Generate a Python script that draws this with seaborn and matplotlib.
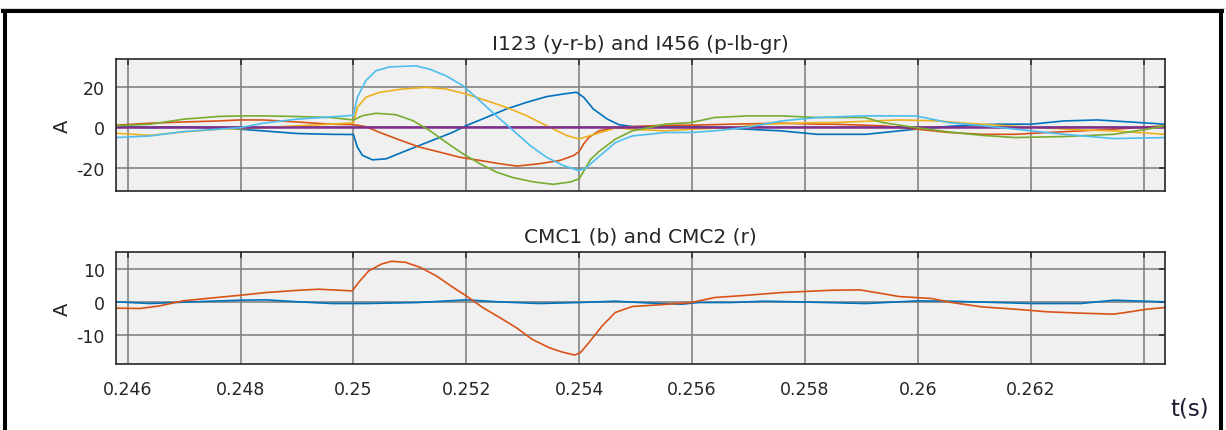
import numpy as np
import pandas as pd
import matplotlib
matplotlib.use("Agg")
import matplotlib.pyplot as plt
from matplotlib.lines import Line2D
import seaborn as sns

# ---------------- phase currents I1..I6 (A) ----------------
t_i1 = [0.2458, 0.2464, 0.2470, 0.2476, 0.2480, 0.2484, 0.2490, 0.2496, 0.2500,
        0.25007, 0.25022, 0.25046, 0.25087, 0.25129, 0.25164, 0.25200, 0.25236,
        0.25271, 0.25307, 0.25342, 0.25378, 0.25400, 0.25420, 0.25445, 0.25465,
        0.25494, 0.25552, 0.25598, 0.25670, 0.25729, 0.25822, 0.25850, 0.25967,
        0.26037, 0.26084, 0.26142, 0.26201, 0.26289, 0.26347, 0.26438]
i1 = [-3.0, -4.0, -2.3, -1.0, -0.7, -0.2, 0.7, 1.5, 2.2,
      9.8, 14.8, 17.2, 18.9, 19.7, 18.9, 16.4, 13.1,
      9.8, 5.7, 0.8, -4.1, -5.8, -4.1, -2.0, -0.3,
      -1.0, -1.8, -1.0, -0.2, 1.5, 2.3, 2.3, 3.6,
      3.1, 2.0, 1.0, 0.0, -1.3, -1.8, -3.5]

t_i2 = [0.2458, 0.2464, 0.2470, 0.2476, 0.2480, 0.2484, 0.2490, 0.2496, 0.2500,
        0.25022, 0.25046, 0.25081, 0.25117, 0.25153, 0.25188, 0.25224, 0.25259,
        0.25290, 0.25330, 0.25366, 0.25390, 0.25400, 0.25408, 0.25417, 0.25435,
        0.25464, 0.25494, 0.25552, 0.25598, 0.25670, 0.25758, 0.25822, 0.25850,
        0.25938, 0.26000, 0.26055, 0.26113, 0.26172, 0.26230, 0.26289, 0.26347,
        0.26438]
i2 = [1.0, 2.0, 2.6, 3.1, 3.6, 3.6, 2.6, 1.5, 1.3,
      0.3, -2.5, -6.2, -9.8, -12.3, -14.8, -16.4, -18.0,
      -19.2, -18.0, -16.4, -14.0, -12.0, -8.2, -5.1, -1.8,
      -0.2, 0.3, 1.0, 1.0, 1.5, 2.0, 1.5, 1.5,
      0.7, -1.0, -2.6, -3.5, -3.5, -2.6, -1.8, -1.0,
      0.7]

t_i3 = [0.2458, 0.2464, 0.2470, 0.2476, 0.2480, 0.2484, 0.2490, 0.2496, 0.2500,
        0.25007, 0.25016, 0.25034, 0.25058, 0.25087, 0.25117, 0.25147, 0.25176,
        0.25200, 0.25236, 0.25271, 0.25307, 0.25342, 0.25372, 0.25395, 0.25408,
        0.25425, 0.25450, 0.25470, 0.25494, 0.25552, 0.25598, 0.25640, 0.25699,
        0.25758, 0.25822, 0.25908, 0.25967, 0.26025, 0.26084, 0.26142, 0.26201,
        0.26259, 0.26318, 0.26376, 0.26438]
i3 = [0.2, -0.2, 0.0, -0.3, -1.0, -1.8, -3.1, -3.5, -3.6,
      -9.8, -13.9, -16.1, -15.6, -12.3, -9.0, -5.7, -2.5,
      0.8, 4.9, 9.0, 12.3, 15.1, 16.4, 17.3, 14.8,
      9.0, 4.0, 1.3, 0.3, 0.3, 0.7, -0.2, -1.0,
      -1.8, -3.5, -3.5, -1.8, -0.2, 1.0, 1.5, 1.5,
      3.1, 3.6, 2.6, 1.5]

t_i4 = [0.2458, 0.26438]
i4 = [0.0, 0.0]

t_i5 = [0.2458, 0.2464, 0.2470, 0.2476, 0.2480, 0.2484, 0.2490, 0.2496, 0.2500,
        0.25007, 0.25022, 0.25040, 0.25064, 0.25111, 0.25135, 0.25164, 0.25194,
        0.25224, 0.25253, 0.25283, 0.25313, 0.25342, 0.25372, 0.25398, 0.25410,
        0.25433, 0.25464, 0.25494, 0.25523, 0.25552, 0.25598, 0.25640, 0.25699,
        0.25758, 0.25822, 0.25900, 0.25996, 0.26055, 0.26142, 0.26201, 0.26259,
        0.26347, 0.26438]
i5 = [-5.1, -4.3, -2.1, -1.0, -0.2, 2.0, 4.0, 5.1, 5.9,
      14.8, 23.0, 27.9, 29.8, 30.3, 28.7, 25.4, 20.5,
      13.1, 5.7, -1.6, -9.0, -14.8, -18.9, -21.3, -20.5,
      -15.0, -7.6, -4.3, -3.5, -2.6, -2.6, -1.8, 0.0,
      3.1, 4.8, 5.6, 5.6, 2.3, 0.0, -1.8, -3.5,
      -5.6, -5.1]

t_i6 = [0.2458, 0.2464, 0.2470, 0.2476, 0.2480, 0.2484, 0.2490, 0.2496, 0.2500,
        0.25016, 0.25040, 0.25075, 0.25105, 0.25135, 0.25164, 0.25194, 0.25224,
        0.25253, 0.25283, 0.25319, 0.25354, 0.25385, 0.25400, 0.25420, 0.25435,
        0.25464, 0.25494, 0.25523, 0.25552, 0.25598, 0.25640, 0.25699, 0.25758,
        0.25822, 0.25906, 0.25938, 0.25996, 0.26055, 0.26113, 0.26172, 0.26259,
        0.26347, 0.26406, 0.26438]
i6 = [0.7, 1.5, 4.0, 5.3, 5.6, 5.6, 5.3, 4.8, 3.6,
      5.7, 6.9, 6.2, 3.3, -1.6, -7.4, -13.1, -18.0,
      -22.1, -24.9, -27.0, -28.2, -27.0, -25.5, -16.0, -12.0,
      -5.9, -1.8, -0.2, 1.5, 2.3, 4.8, 5.6, 5.6,
      4.8, 4.8, 2.3, -0.2, -2.3, -4.0, -5.1, -4.6,
      -3.5, -1.0, 0.7]

# ---------------- common-mode currents CMC1, CMC2 (A) ----------------
t_cmc1 = [0.24581, 0.24639, 0.24698, 0.24800, 0.24845, 0.24904, 0.24962,
          0.25021, 0.25115, 0.25200, 0.25259, 0.25329, 0.25400, 0.25464,
          0.25541, 0.25582, 0.25611, 0.25670, 0.25728, 0.25787, 0.25908,
          0.26000, 0.26055, 0.26142, 0.26201, 0.26289, 0.26347, 0.26438]
cmc1 = [0.1, -0.4, 0.0, 0.6, 0.7, 0.1, -0.4,
        -0.4, -0.1, 0.7, 0.1, -0.4, -0.1, 0.3,
        -0.4, -0.6, -0.1, -0.1, 0.3, 0.1, -0.4,
        0.4, 0.3, -0.1, -0.4, -0.4, 0.6, 0.1]

t_cmc2 = [0.24581, 0.24622, 0.24657, 0.24698, 0.24757, 0.24800, 0.24845,
          0.24904, 0.24939, 0.24962, 0.24998, 0.25009, 0.25027, 0.25050,
          0.25068, 0.25092, 0.25118, 0.25147, 0.25177, 0.25200, 0.25229,
          0.25259, 0.25288, 0.25317, 0.25347, 0.25370, 0.25392, 0.25402,
          0.25417, 0.25441, 0.25464, 0.25494, 0.25541, 0.25598, 0.25640,
          0.25699, 0.25758, 0.25822, 0.25850, 0.25897, 0.25926, 0.25967,
          0.26025, 0.26060, 0.26113, 0.26172, 0.26230, 0.26289, 0.26347,
          0.26376, 0.26406, 0.26438]
cmc2 = [-1.8, -1.9, -1.1, 0.4, 1.4, 2.1, 2.9,
        3.6, 3.9, 3.7, 3.4, 5.9, 9.4, 11.5,
        12.3, 12.0, 10.5, 7.9, 4.4, 1.9, -1.6,
        -4.6, -7.6, -11.2, -13.7, -15.0, -15.9, -15.2,
        -12.2, -7.1, -3.1, -1.3, -0.8, -0.1, 1.4,
        2.1, 2.9, 3.4, 3.6, 3.7, 2.9, 1.7,
        1.1, -0.1, -1.4, -2.1, -2.9, -3.3, -3.6,
        -2.9, -2.1, -1.6]

x_ticks = [0.246, 0.248, 0.250, 0.252, 0.254, 0.256, 0.258, 0.260, 0.262, 0.264]
x_tick_labels = ["0.246", "0.248", "0.25", "0.252", "0.254", "0.256",
                 "0.258", "0.26", "0.262", ""]
top_y_ticks = [-20, 0, 20]
bottom_y_ticks = [-10, 0, 10]

# MATLAB default colour order
phase_colors = {
    "I3": "#0072BD",   # blue
    "I2": "#D95319",   # red / orange
    "I1": "#EDB120",   # yellow
    "I4": "#7E2F8E",   # purple
    "I6": "#77AC30",   # green
    "I5": "#4DBEEE",   # light blue
}
cmc_colors = {"CMC1": "#0072BD", "CMC2": "#D95319"}

phase_df = pd.concat([
    pd.DataFrame({"t": t_i1, "I": i1, "phase": "I1"}),
    pd.DataFrame({"t": t_i2, "I": i2, "phase": "I2"}),
    pd.DataFrame({"t": t_i3, "I": i3, "phase": "I3"}),
    pd.DataFrame({"t": t_i4, "I": i4, "phase": "I4"}),
    pd.DataFrame({"t": t_i5, "I": i5, "phase": "I5"}),
    pd.DataFrame({"t": t_i6, "I": i6, "phase": "I6"}),
], ignore_index=True)

cmc_df = pd.concat([
    pd.DataFrame({"t": t_cmc1, "I": cmc1, "signal": "CMC1"}),
    pd.DataFrame({"t": t_cmc2, "I": cmc2, "signal": "CMC2"}),
], ignore_index=True)

sns.set_style("white", {
    "axes.facecolor": "#f0f0f0",
    "axes.edgecolor": "#262626",
    "grid.color": "#7a7a7a",
})
plt.rcParams["font.family"] = ["DejaVu Sans"]

fig = plt.figure(figsize=(12.26, 4.31), dpi=100)
ax1 = fig.add_axes([0.0946, 0.5545, 0.8556, 0.3063])
ax2 = fig.add_axes([0.0946, 0.1531, 0.8556, 0.2599])

sns.lineplot(data=phase_df, x="t", y="I", hue="phase",
             hue_order=["I3", "I2", "I1", "I4", "I6", "I5"],
             palette=phase_colors, estimator=None, linewidth=1.2,
             legend=False, ax=ax1)
sns.lineplot(data=cmc_df, x="t", y="I", hue="signal",
             hue_order=["CMC1", "CMC2"], palette=cmc_colors,
             estimator=None, linewidth=1.2, legend=False, ax=ax2)

# purple zero-line a little heavier
for ln in ax1.get_lines():
    if ln.get_color() in ("#7E2F8E", "#7e2f8e"):
        ln.set_linewidth(1.8)

xlim = (0.245793, 0.264379)
ax1.set_ylim(-31.5, 33.7)
ax2.set_ylim(-18.6, 15.1)

text_col = "#262626"
for ax, yt in ((ax1, top_y_ticks), (ax2, bottom_y_ticks)):
    ax.set_xlim(*xlim)
    ax.set_xticks(x_ticks)
    ax.set_yticks(yt)
    ax.set_yticklabels([str(v) for v in yt])
    ax.grid(True, color="#7a7a7a", linewidth=1.1)
    ax.set_axisbelow(True)
    ax.tick_params(axis="both", direction="in", length=4, width=1.1,
                   top=True, right=True, colors=text_col, labelsize=12.5)
    ax.tick_params(axis="y", pad=8)
    ax.tick_params(axis="x", pad=11.5)
    for sp in ax.spines.values():
        sp.set_visible(True)
        sp.set_color(text_col)
        sp.set_linewidth(1.2)
    ax.set_xlabel("")
    ax.set_ylabel("A", fontsize=14, color=text_col)
    ax.yaxis.set_label_coords(-0.0424, 0.5)

ax1.set_xticklabels([])
ax2.set_xticklabels(x_tick_labels)

ax1.set_title("I123 (y-r-b) and I456 (p-lb-gr)", fontsize=14.5,
              color=text_col, pad=7.2)
ax2.set_title("CMC1 (b) and CMC2 (r)", fontsize=14.5,
              color=text_col, pad=7.2)

W, H = 1226.0, 431.0
fig.text(1190 / W, 1 - 409 / H, "t(s)", fontsize=16.5, color="#1b1b33",
         ha="center", va="center")

# window frame
frame = dict(color="black", linewidth=2.9, solid_capstyle="projecting")
fig.add_artist(Line2D([3 / W, 1222 / W], [1 - 12 / H, 1 - 12 / H],
                      transform=fig.transFigure, **frame))
fig.add_artist(Line2D([4.8 / W, 4.8 / W], [0, 1 - 12 / H],
                      transform=fig.transFigure, **frame))
fig.add_artist(Line2D([1221 / W, 1221 / W], [0, 1 - 12 / H],
                      transform=fig.transFigure, **frame))
fig.add_artist(Line2D([0, 1], [1 - 8.5 / H, 1 - 8.5 / H],
                      transform=fig.transFigure, color="#d6d6d6",
                      linewidth=0.8))

fig.savefig("out.png", dpi=100, facecolor="white")
